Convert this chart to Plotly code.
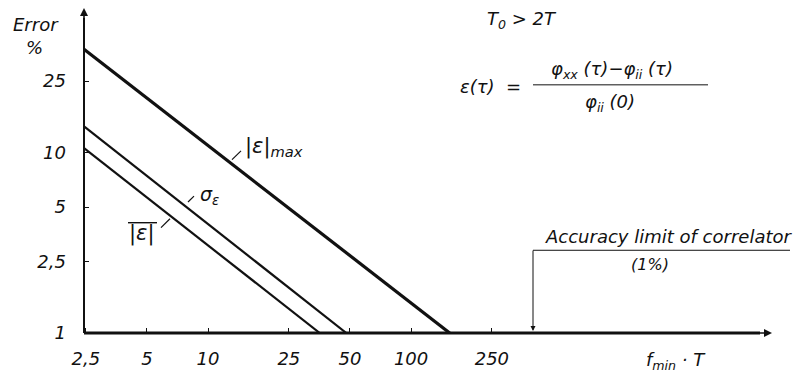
import plotly.graph_objects as go

# f_min*T (log axis) and error in % (log axis)
f_T_start = 2.45
err_max = [37.5, 1.0]
f_T_max = [f_T_start, 155]
err_sigma = [14.0, 1.0]
f_T_sigma = [f_T_start, 48]
err_mean = [10.6, 1.0]
f_T_mean = [f_T_start, 35.5]

x_tickvals = [2.5, 5, 10, 25, 50, 100, 250]
x_ticktext = ["2,5", "5", "10", "25", "50", "100", "250"]
y_tickvals = [1, 2.5, 5, 10, 25]
y_ticktext = ["1", "2,5", "5", "10", "25"]

W, H = 803, 379
L, R, T, B = 84, 33, 10, 41
PW, PH = W - L - R, H - T - B


def px(x):
    return (x - L) / PW


def py(y):
    return (H - B - y) / PH


FONT = dict(family="DejaVu Sans", size=18, color="#111", style="italic")

fig = go.Figure()
fig.add_trace(go.Scatter(x=f_T_max, y=err_max, mode="lines",
                         line=dict(color="#111", width=3.2)))
fig.add_trace(go.Scatter(x=f_T_sigma, y=err_sigma, mode="lines",
                         line=dict(color="#111", width=2.2)))
fig.add_trace(go.Scatter(x=f_T_mean, y=err_mean, mode="lines",
                         line=dict(color="#111", width=2.2)))

fig.update_xaxes(type="log", range=[0.389, 3.768], tickvals=x_tickvals,
                 ticktext=x_ticktext, ticks="inside", ticklen=5, tickwidth=1,
                 tickcolor="#111", showgrid=False, zeroline=False,
                 showline=False, tickfont=FONT, ticklabelstandoff=13)
fig.update_yaxes(type="log", range=[0, 1.792], tickvals=y_tickvals,
                 ticktext=y_ticktext, ticks="inside", ticklen=5, tickwidth=1,
                 tickcolor="#111", showgrid=False, zeroline=False,
                 showline=False, tickfont=FONT, ticklabelstandoff=17)

shapes = []
ann = []


def seg(x0, y0, x1, y1, w=1.2):
    shapes.append(dict(type="line", xref="paper", yref="paper",
                       x0=px(x0), y0=py(y0), x1=px(x1), y1=py(y1),
                       line=dict(color="#111", width=w)))


def text(x, y, s, size=18, xanchor="center"):
    ann.append(dict(x=px(x), y=py(y), xref="paper", yref="paper", text=s,
                    showarrow=False, xanchor=xanchor, yanchor="middle",
                    font=dict(FONT, size=size)))


def arrow(x, y, ax, ay, w=1.2):
    ann.append(dict(x=px(x), y=py(y), xref="paper", yref="paper", text="",
                    showarrow=True, ax=ax, ay=ay, arrowhead=2,
                    arrowsize=1.0, arrowwidth=w, arrowcolor="#111"))


# axes with arrowheads
seg(84, 338, 84, 18, 2)
arrow(84, 8, 0, 20, 1.6)
seg(84, 338, 760, 338, 3)
arrow(772, 338, -20, 0, 1.6)

# axis titles
text(36, 25, "Error", 18)
text(34, 48, "%", 18)
text(676, 366, "f<sub>min</sub> · T", 18)

# curve labels and leader lines
text(243, 149, "|ε|<sub>max</sub>", 21, xanchor="left")
seg(232, 162, 241, 153)
text(209, 198, "σ<sub>ε</sub>", 19)
seg(188, 205, 194, 199)
text(142, 237, "|ε|", 21)
seg(128, 226, 157, 226, 1.4)
seg(161, 231, 170, 222)

# conditions and definition
text(522, 20, "T<sub>0</sub> > 2T", 18)
text(490, 88, "ε(τ)  =", 18)
text(612, 71, "φ<sub>xx</sub> (τ)−φ<sub>ii</sub> (τ)", 18)
seg(533, 86, 708, 86, 1)
text(610, 104, "φ<sub>ii</sub> (0)", 18)

# accuracy limit marker
text(668, 240, "Accuracy limit of correlator", 18)
seg(533, 254, 790, 254, 1)
text(650, 268, "(1%)", 16)
arrow(533, 336, 0, -82, 1)

fig.update_layout(width=W, height=H, margin=dict(l=L, r=R, t=T, b=B),
                  paper_bgcolor="white", plot_bgcolor="white",
                  showlegend=False, font=FONT, shapes=shapes,
                  annotations=ann)

fig.write_html("out.html")
